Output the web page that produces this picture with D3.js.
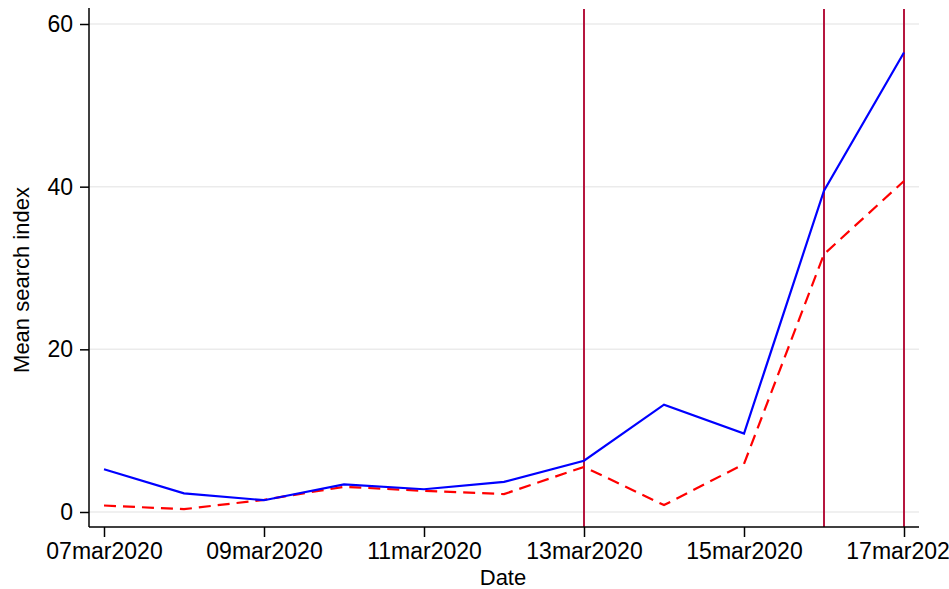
<!DOCTYPE html>
<html>
<head>
<meta charset="utf-8">
<script src="https://cdn.jsdelivr.net/npm/d3@7"></script>
<style>
  body { margin: 0; background: #fff; }
  svg { display: block; font-family: "Liberation Sans", Arial, sans-serif; }
</style>
</head>
<body>
<div class="canvas"></div>
<script>
// data
const dates = ["2020-03-07", "2020-03-08", "2020-03-09", "2020-03-10", "2020-03-11", "2020-03-12",
    "2020-03-13", "2020-03-14", "2020-03-15", "2020-03-16", "2020-03-17"]
const blueSeries = [5.25, 2.3, 1.45, 3.4, 2.8, 3.7, 6.3, 13.2, 9.65, 39.5, 56.5]
const redSeries = [0.8, 0.35, 1.5, 3.1, 2.6, 2.2, 5.55, 0.85, 5.9, 31.7, 40.7]
const markerDates = ["2020-03-13", "2020-03-16", "2020-03-17"]
const xTickDates = ["2020-03-07", "2020-03-09", "2020-03-11", "2020-03-13", "2020-03-15", "2020-03-17"]
const yTicks = [0, 20, 40, 60]

const parse = d3.timeParse("%Y-%m-%d")
const fmt = d => d3.timeFormat("%d")(d) + d3.timeFormat("%b")(d).toLowerCase() + d3.timeFormat("%Y")(d)

/**
 * Graph dimensions
 */
const width = 949, height = 589
const margin = {top: 8, right: 30, bottom: 62, left: 89}
const graphWidth = width - margin.left - margin.right
const graphHeight = height - margin.top - margin.bottom

const svg = d3.select(".canvas")
    .append("svg")
    .attr("width", width)
    .attr("height", height)

const graph = svg.append("g")
    .attr("transform", `translate(${margin.left},${margin.top})`)

/**
 * Scales
 */
const x = d3.scaleTime()
    .domain([parse("2020-03-07"), parse("2020-03-17")])
    .range([15, 815])
const y = d3.scaleLinear()
    .domain([0, 60])
    .range([504, 16])

// gridlines
graph.append("g")
    .selectAll("line")
    .data(yTicks)
    .enter().append("line")
        .attr("x1", 0)
        .attr("x2", 830)
        .attr("y1", d => y(d))
        .attr("y2", d => y(d))
        .attr("stroke", "#ebebeb")
        .attr("stroke-width", 1.5)

// vertical marker lines
graph.append("g")
    .selectAll("line")
    .data(markerDates)
    .enter().append("line")
        .attr("x1", d => x(parse(d)))
        .attr("x2", d => x(parse(d)))
        .attr("y1", 1)
        .attr("y2", graphHeight)
        .attr("stroke", "#b5163f")
        .attr("stroke-width", 2)

/**
 * Lines
 */
const blueData = dates.map((d, i) => ({date: parse(d), value: blueSeries[i]}))
const redData = dates.map((d, i) => ({date: parse(d), value: redSeries[i]}))

const line = d3.line()
    .x(d => x(d.date))
    .y(d => y(d.value))

graph.append("path")
    .datum(redData)
    .attr("fill", "none")
    .attr("stroke", "#ff0000")
    .attr("stroke-width", 2.2)
    .attr("stroke-dasharray", "12,7")
    .attr("d", line)

graph.append("path")
    .datum(blueData)
    .attr("fill", "none")
    .attr("stroke", "#0000ff")
    .attr("stroke-width", 2.2)
    .attr("d", line)

/**
 * Axes
 */
const xAxis = d3.axisBottom(x)
    .tickValues(xTickDates.map(parse))
    .tickFormat(fmt)
    .tickSizeOuter(0)
    .tickSize(10)
    .tickPadding(6)
const yAxis = d3.axisLeft(y)
    .tickValues(yTicks)
    .tickSizeOuter(0)
    .tickSize(9)
    .tickPadding(7)

const xAxisGroup = graph.append("g")
    .attr("transform", `translate(0, ${graphHeight})`)
    .call(xAxis)
const yAxisGroup = graph.append("g")
    .call(yAxis)

xAxisGroup.select(".domain").attr("d", `M0,0H830`)
yAxisGroup.select(".domain").attr("d", `M0,0V${graphHeight}`)

graph.selectAll(".domain, .tick line")
    .attr("stroke", "#000")
    .attr("stroke-width", 1.5)
graph.selectAll(".tick text")
    .attr("font-size", 23)
    .attr("fill", "#000")
    .attr("font-family", "'Liberation Sans', Arial, sans-serif")

// axis titles
svg.append("text")
    .attr("x", margin.left + 414)
    .attr("y", 585)
    .attr("text-anchor", "middle")
    .attr("font-size", 22)
    .text("Date")

svg.append("text")
    .attr("transform", `translate(29, ${margin.top + 272}) rotate(-90)`)
    .attr("text-anchor", "middle")
    .attr("font-size", 22)
    .text("Mean search index")
</script>
</body>
</html>
